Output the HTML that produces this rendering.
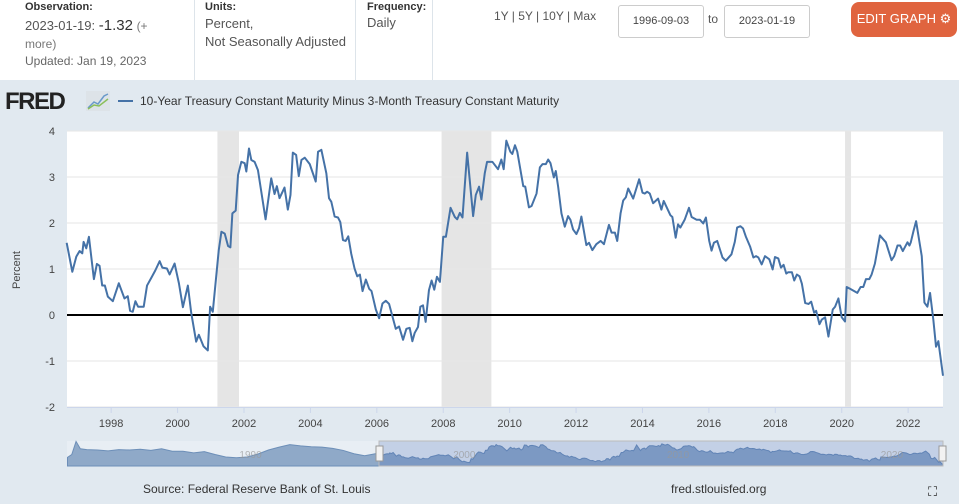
<!DOCTYPE html>
<html><head><meta charset="utf-8">
<style>
body{margin:0;width:959px;height:504px;overflow:hidden;background:#e1e9f0;font-family:"Liberation Sans Narrow","Liberation Sans",sans-serif;color:#444;position:relative}
.hdr{position:absolute;left:0;top:0;width:959px;height:80px;background:#fff}
.abs{position:absolute}
.lbl{font-weight:bold;font-size:11px;color:#333}
.v{font-size:13px;color:#555}
.div{position:absolute;top:0;width:1px;height:80px;background:#dde4ea}
.inp{position:absolute;top:5px;height:31px;border:1px solid #ccc;border-radius:3px;background:#fff;font-size:11px;color:#444;line-height:31px;text-align:center}
</style></head><body>
<div class="hdr">
 <div class="abs lbl" style="left:25px;top:1px">Observation:</div>
 <div class="abs v" style="left:25px;top:17px;width:160px;line-height:18px">2023-01-19: <span style="font-size:15px;color:#333">-1.32</span> <span style="font-size:12px;color:#777">(+<br>more)</span></div>
 <div class="abs" style="left:25px;top:54px;font-size:12px;color:#666">Updated: Jan 19, 2023</div>
 <div class="div" style="left:194px"></div>
 <div class="abs lbl" style="left:205px;top:1px">Units:</div>
 <div class="abs v" style="left:205px;top:15px;line-height:18px">Percent,<br>Not Seasonally Adjusted</div>
 <div class="div" style="left:355px"></div>
 <div class="abs lbl" style="left:367px;top:1px">Frequency:</div>
 <div class="abs v" style="left:367px;top:15px">Daily</div>
 <div class="div" style="left:432px"></div>
 <div class="abs" style="left:494px;top:9px;font-size:12px;color:#555">1Y | 5Y | 10Y | Max</div>
 <div class="inp" style="left:618px;width:84px">1996-09-03</div>
 <div class="abs" style="left:708px;top:12px;font-size:12px;color:#555">to</div>
 <div class="inp" style="left:724px;width:84px">2023-01-19</div>
 <div class="abs" style="left:851px;top:2px;width:106px;height:35px;background:#e0643f;border-radius:8px;color:#fff;font-size:13px;line-height:33px;text-align:center">EDIT GRAPH ⚙</div>
</div>
<div class="abs" style="left:5px;top:88px;font-family:'Liberation Sans',sans-serif;font-weight:900;font-size:24px;color:#222;letter-spacing:-1.5px">FRED</div>
<svg class="abs" style="left:86px;top:91px" width="24" height="20"><rect width="24" height="20" fill="#dde3e8"/><polyline points="2,17 8,11 12,13 18,5 22,3" fill="none" stroke="#6a9ac9" stroke-width="1.5"/><polyline points="2,18 8,14 13,15 22,8" fill="none" stroke="#8bbf5a" stroke-width="1.5"/></svg>
<div class="abs" style="left:118px;top:100px;width:15px;height:2px;background:#4572a7"></div>
<div class="abs" style="left:140px;top:94px;font-size:12px;color:#333">10-Year Treasury Constant Maturity Minus 3-Month Treasury Constant Maturity</div>
<svg id="chart" class="abs" style="left:0;top:0" width="959" height="504"></svg>
<div class="abs" style="left:143px;top:482px;font-size:12px;color:#333">Source: Federal Reserve Bank of St. Louis</div>
<div class="abs" style="left:671px;top:482px;font-size:12px;color:#333">fred.stlouisfed.org</div>
<div class="abs" style="left:928px;top:484px;font-size:13px;color:#222">⛶</div>
<script>
const dates=[1996.66,1996.83,1996.95,1997.05,1997.13,1997.17,1997.25,1997.33,1997.48,1997.57,1997.65,1997.73,1997.81,1997.90,1998.05,1998.23,1998.40,1998.50,1998.57,1998.65,1998.73,1998.81,1998.98,1999.08,1999.21,1999.33,1999.46,1999.54,1999.68,1999.76,1999.91,2000.04,2000.16,2000.31,2000.41,2000.56,2000.64,2000.78,2000.91,2000.98,2001.06,2001.24,2001.32,2001.42,2001.52,2001.59,2001.65,2001.75,2001.82,2001.92,2002.02,2002.07,2002.15,2002.22,2002.32,2002.42,2002.65,2002.82,2002.92,2002.99,2003.07,2003.22,2003.32,2003.40,2003.47,2003.57,2003.65,2003.73,2003.83,2003.98,2004.16,2004.23,2004.33,2004.48,2004.56,2004.63,2004.73,2004.83,2004.90,2004.98,2005.06,2005.14,2005.23,2005.33,2005.41,2005.49,2005.57,2005.67,2005.77,2005.84,2005.97,2006.07,2006.17,2006.27,2006.37,2006.57,2006.67,2006.79,2006.89,2006.99,2007.07,2007.14,2007.24,2007.31,2007.39,2007.47,2007.57,2007.65,2007.73,2007.81,2007.90,2008.00,2008.08,2008.22,2008.35,2008.42,2008.50,2008.58,2008.72,2008.90,2008.98,2009.08,2009.15,2009.25,2009.32,2009.48,2009.65,2009.75,2009.82,2009.90,2010.02,2010.08,2010.16,2010.23,2010.41,2010.47,2010.58,2010.66,2010.81,2010.91,2010.99,2011.09,2011.16,2011.23,2011.33,2011.39,2011.46,2011.56,2011.66,2011.76,2011.83,2011.91,2012.01,2012.09,2012.16,2012.31,2012.39,2012.49,2012.61,2012.74,2012.84,2012.99,2013.07,2013.17,2013.24,2013.34,2013.42,2013.50,2013.57,2013.72,2013.90,2014.00,2014.07,2014.14,2014.22,2014.32,2014.47,2014.57,2014.64,2014.84,2014.90,2015.00,2015.07,2015.14,2015.27,2015.40,2015.48,2015.63,2015.73,2015.83,2015.91,2016.01,2016.08,2016.15,2016.25,2016.41,2016.51,2016.68,2016.78,2016.85,2016.95,2017.03,2017.11,2017.24,2017.34,2017.42,2017.49,2017.59,2017.69,2017.82,2017.92,2017.99,2018.09,2018.17,2018.25,2018.33,2018.39,2018.50,2018.57,2018.65,2018.73,2018.80,2018.90,2019.00,2019.08,2019.17,2019.23,2019.33,2019.40,2019.50,2019.60,2019.73,2019.80,2019.90,2020.00,2020.10,2020.15,2020.25,2020.47,2020.57,2020.65,2020.73,2020.83,2020.90,2021.00,2021.15,2021.33,2021.50,2021.58,2021.68,2021.76,2021.84,2021.98,2022.04,2022.08,2022.16,2022.24,2022.34,2022.41,2022.49,2022.58,2022.66,2022.76,2022.84,2022.91,2023.05];
const values=[1.57,0.94,1.27,1.39,1.34,1.59,1.45,1.70,0.78,1.11,1.07,0.64,0.64,0.40,0.30,0.69,0.36,0.41,0.09,0.07,0.30,0.18,0.18,0.64,0.81,0.97,1.17,1.03,1.01,0.88,1.12,0.69,0.17,0.64,0.05,-0.58,-0.43,-0.68,-0.77,0.18,0.07,1.41,1.81,1.77,1.50,1.47,2.21,2.27,3.04,3.33,3.30,3.12,3.62,3.37,3.33,3.15,2.08,2.97,2.63,2.80,2.54,2.77,2.29,2.61,3.53,3.48,3.02,3.37,3.42,3.28,2.90,3.55,3.59,3.08,2.54,2.46,2.14,2.12,2.02,1.63,1.61,1.71,1.33,1.01,0.84,0.88,0.52,0.77,0.57,0.52,0.12,-0.07,0.25,0.31,0.24,-0.30,-0.25,-0.54,-0.30,-0.28,-0.57,-0.39,-0.26,0.18,0.21,-0.15,0.54,0.75,0.55,0.83,0.72,1.70,1.70,2.33,2.13,2.08,2.22,2.12,3.53,2.15,2.61,2.79,2.51,3.08,3.33,3.33,3.17,3.38,3.17,3.79,3.55,3.50,3.69,3.55,2.80,2.79,2.34,2.37,2.64,3.21,3.28,3.28,3.38,3.30,2.99,3.13,2.79,2.21,1.92,2.15,2.07,1.86,1.76,1.89,2.14,1.52,1.57,1.41,1.54,1.61,1.54,1.96,1.79,1.79,1.61,2.21,2.49,2.56,2.75,2.53,2.95,2.66,2.64,2.68,2.64,2.43,2.53,2.29,2.48,2.17,2.13,1.68,1.97,1.90,2.07,2.33,2.13,2.07,2.07,1.99,2.12,1.61,1.40,1.57,1.61,1.25,1.18,1.32,1.59,1.90,1.93,1.88,1.71,1.49,1.25,1.28,1.25,1.10,1.28,1.21,0.99,1.26,1.23,1.03,1.09,0.90,0.93,0.93,0.75,0.88,0.84,0.68,0.26,0.24,0.29,0.05,0.09,-0.20,-0.10,-0.05,-0.47,0.12,0.18,0.36,-0.05,-0.14,0.61,0.57,0.48,0.61,0.61,0.78,0.78,0.88,1.12,1.73,1.58,1.19,1.28,1.51,1.51,1.39,1.58,1.51,1.58,1.82,2.04,1.59,1.28,0.27,0.18,0.48,-0.11,-0.69,-0.57,-1.32];
const recessionStarts=[2001.2,2007.95,2020.1];
const recessionEnds=[2001.85,2009.45,2020.28];
const yTicks=[4,3,2,1,0,-1,-2];
const xTicks=[1998,2000,2002,2004,2006,2008,2010,2012,2014,2016,2018,2020,2022];
const navDates=[1982.1,1982.3,1982.5,1982.7,1983.0,1983.5,1984.0,1984.5,1985.0,1985.5,1986.0,1986.5,1987.0,1987.5,1988.0,1988.5,1989.0,1989.5,1990.0,1990.5,1991.0,1991.5,1992.0,1992.5,1993.0,1993.5,1994.0,1994.5,1995.0,1995.5,1996.0,1996.5];
const navValues=[0.5,1.2,4.4,2.6,2.4,2.3,2.1,2.4,2.3,2.5,2.2,2.6,2.0,2.0,1.6,1.9,1.2,0.6,0.4,0.6,1.3,2.3,3.0,3.6,3.3,3.1,3.0,2.7,2.2,1.4,0.9,1.4];

const NS='http://www.w3.org/2000/svg';
const svg=document.getElementById('chart');
function mk(t,a){const e=document.createElementNS(NS,t);for(const k in a)e.setAttribute(k,a[k]);svg.appendChild(e);return e;}
const X0=67,X1=943,D0=1996.67,D1=2023.05;
const x=d=>X0+(d-D0)/(D1-D0)*(X1-X0);
const y=v=>315-v*46;
let e=mk('rect',{x:X0,y:131,width:X1-X0,height:276,fill:'#fff'});


recessionStarts.forEach((s,i)=>{const r=mk('rect',{x:x(s),y:131,width:x(recessionEnds[i])-x(s),height:276,fill:'#e5e5e5'});

});
yTicks.forEach(t=>{const l=mk('line',{x1:X0,x2:X1,y1:y(t),y2:y(t),stroke:'#e6e6e6','stroke-width':1});


const tx=mk('text',{x:55,y:y(t)+4,'text-anchor':'end','font-size':11,fill:'#444'});tx.textContent=t;

});
mk('line',{x1:X0,x2:X1,y1:407.5,y2:407.5,stroke:'#ccd6eb'});
xTicks.forEach(t=>{const xx=x(t);mk('line',{x1:xx,x2:xx,y1:407,y2:413,stroke:'#ccd6eb'});
const tx=mk('text',{x:xx,y:427,'text-anchor':'middle','font-size':11,fill:'#444'});tx.textContent=t;

});
e=mk('line',{x1:X0,x2:X1,y1:y(0),y2:y(0),stroke:'#000','stroke-width':2});


e=mk('polyline',{points:dates.map((d,i)=>x(d)+','+y(values[i])).join(' '),fill:'none',stroke:'#4572a7','stroke-width':2,'stroke-linejoin':'round'});


const yl=mk('text',{x:0,y:0,transform:'translate(20,270) rotate(-90)','text-anchor':'middle','font-size':11,fill:'#444'});yl.textContent='Percent';


// navigator
const NSEL=379;
const nscale=(X1-NSEL)/(D1-D0);
const N0=D0-(NSEL-X0)/nscale;
const nx=d=>X0+(d-N0)*nscale;
const ny=v=>466-(v+1.6)/6.1*25;
e=mk('rect',{x:X0,y:441,width:X1-X0,height:25,fill:'#e8eef4'});


const allD=navDates.concat(dates),allV=navValues.concat(values);
let pts=allD.map((d,i)=>nx(d)+','+ny(allV[i]));
mk('polygon',{points:nx(allD[0])+',466 '+pts.join(' ')+' '+nx(allD[allD.length-1])+',466',fill:'#8fa9c8',stroke:'#6d8fb8','stroke-width':1});
e=mk('rect',{x:NSEL,y:441,width:X1-NSEL,height:25,fill:'#335cad','fill-opacity':0.2,stroke:'#bbb'});


[[1990,'1990'],[2000,'2000'],[2010,'2010'],[2020,'2020']].forEach(a=>{const t=mk('text',{x:nx(a[0])+3,y:458,'text-anchor':'start','font-size':10,fill:'#999','fill-opacity':0.7});t.textContent=a[1];

});
[NSEL,X1-1].forEach(hx=>{const h=mk('rect',{x:hx-3,y:446,width:7,height:15,fill:'#f2f2f2',stroke:'#999'});

});
</script>
</body></html>
